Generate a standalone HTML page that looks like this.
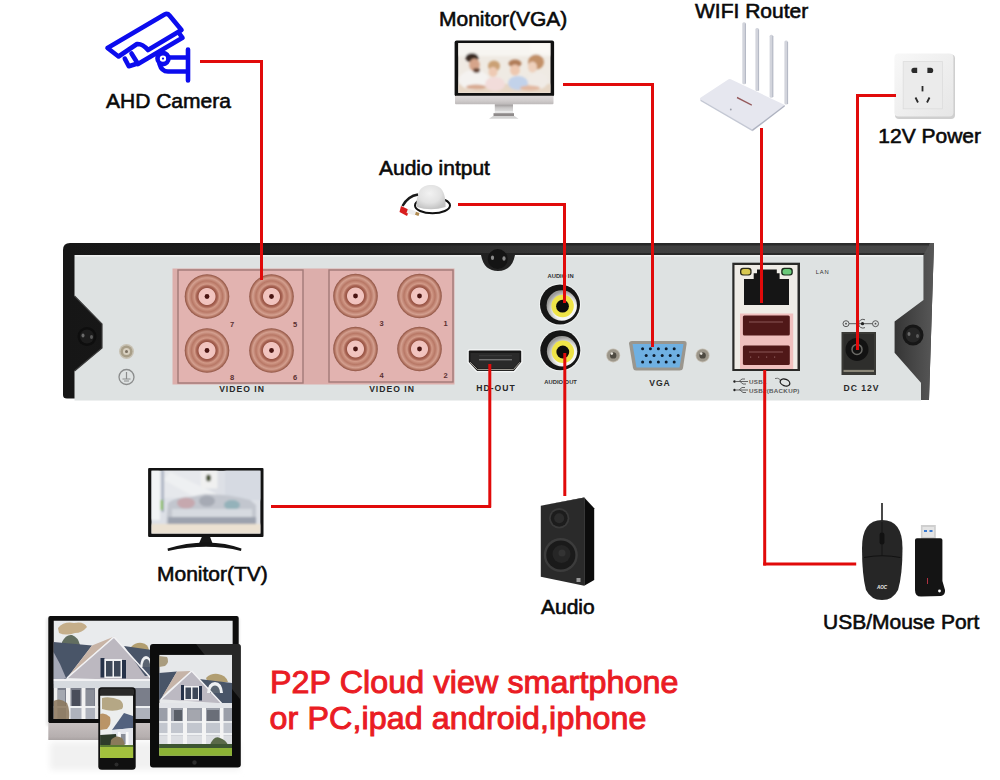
<!DOCTYPE html>
<html><head><meta charset="utf-8"><title>DVR connection diagram</title>
<style>
html,body{margin:0;padding:0;background:#fff;}
body{width:1000px;height:780px;overflow:hidden;position:relative;font-family:"Liberation Sans",sans-serif;}
svg{position:absolute;left:0;top:0;display:block;}
.lbl{font-family:"Liberation Sans",sans-serif;font-size:21px;fill:#0a0a0a;stroke:#0a0a0a;stroke-width:0.6px;}
.red{font-family:"Liberation Sans",sans-serif;font-size:32.2px;fill:#ea1c24;stroke:#ea1c24;stroke-width:1px;letter-spacing:0.12px;}
.sm{font-family:"Liberation Sans",sans-serif;font-weight:bold;}
</style></head>
<body>
<svg width="1000" height="780" viewBox="0 0 1000 780">
<defs>
  <radialGradient id="bnc" cx="50%" cy="50%" r="50%">
    <stop offset="0" stop-color="#f4c8c4"/>
    <stop offset="0.36" stop-color="#f0c2bd"/>
    <stop offset="0.40" stop-color="#9a5646"/>
    <stop offset="0.47" stop-color="#a86454"/>
    <stop offset="0.56" stop-color="#d29a88"/>
    <stop offset="0.70" stop-color="#b87866"/>
    <stop offset="0.84" stop-color="#d4a090"/>
    <stop offset="0.93" stop-color="#b27462"/>
    <stop offset="1" stop-color="#8a5040"/>
  </radialGradient>
  <linearGradient id="topbar" x1="0" y1="0" x2="1" y2="0">
    <stop offset="0" stop-color="#161616"/><stop offset="0.35" stop-color="#1c1c1c"/><stop offset="0.6" stop-color="#262626"/><stop offset="1" stop-color="#2e2e2e"/>
  </linearGradient>
  <linearGradient id="rside" x1="0" y1="0" x2="1" y2="0" gradientUnits="objectBoundingBox">
    <stop offset="0" stop-color="#353535"/>
    <stop offset="1" stop-color="#585858"/>
  </linearGradient>

  <clipPath id="clipvga"><rect x="458.2" y="43" width="92.3" height="50"/></clipPath>
  <filter id="bl1" x="-5%" y="-5%" width="110%" height="110%"><feGaussianBlur stdDeviation="1.3"/></filter>
  <filter id="bl07"><feGaussianBlur stdDeviation="0.7"/></filter>
  <linearGradient id="silv" x1="0" y1="0" x2="0" y2="1">
    <stop offset="0" stop-color="#dedada"/><stop offset="0.6" stop-color="#cfcbcb"/><stop offset="1" stop-color="#bdb9b9"/>
  </linearGradient>
  <linearGradient id="neck" x1="0" y1="0" x2="0" y2="1">
    <stop offset="0" stop-color="#9a9696"/><stop offset="0.5" stop-color="#c8c6c6"/><stop offset="1" stop-color="#dcdcdc"/>
  </linearGradient>
  <radialGradient id="dome" cx="45%" cy="35%" r="65%">
    <stop offset="0" stop-color="#f2f2f2"/><stop offset="0.6" stop-color="#e2e2e2"/><stop offset="1" stop-color="#c4c4c4"/>
  </radialGradient>

  <clipPath id="cliptv"><rect x="151.3" y="470.6" width="109.3" height="63.2"/></clipPath>
  <clipPath id="clipm"><rect x="53.5" y="620.5" width="179.3" height="98.5"/></clipPath>
  <clipPath id="clipt"><rect x="159.2" y="654.7" width="72.8" height="101.1"/></clipPath>
  <clipPath id="clipp"><rect x="100.1" y="695.4" width="33.1" height="62.7"/></clipPath>
  <linearGradient id="chin2" x1="0" y1="0" x2="0" y2="1">
    <stop offset="0" stop-color="#c6c0c0"/><stop offset="0.8" stop-color="#b6afaf"/><stop offset="1" stop-color="#a8a2a2"/>
  </linearGradient>
  <linearGradient id="refl" x1="0" y1="0" x2="0" y2="1">
    <stop offset="0" stop-color="#f6f6f6"/><stop offset="0.7" stop-color="#f2f2f2"/><stop offset="1" stop-color="#fbfbfb"/>
  </linearGradient>
  <radialGradient id="rcal" cx="60%" cy="62%" r="60%">
    <stop offset="0.6" stop-color="#f6f6f4"/><stop offset="1" stop-color="#9a9a98"/>
  </radialGradient>
  <linearGradient id="sock" x1="0" y1="0" x2="1" y2="1">
    <stop offset="0" stop-color="#f8f8f8"/><stop offset="1" stop-color="#e6e6e6"/>
  </linearGradient>
  <filter id="bl3" x="-20%" y="-50%" width="140%" height="200%"><feGaussianBlur stdDeviation="3"/></filter>
  <linearGradient id="barhl" x1="0" y1="0" x2="1" y2="0">
    <stop offset="0" stop-color="#505050" stop-opacity="0"/><stop offset="0.35" stop-color="#505050" stop-opacity="0.15"/><stop offset="0.65" stop-color="#505050" stop-opacity="0.55"/><stop offset="1" stop-color="#555555" stop-opacity="0.7"/>
  </linearGradient>
</defs>


<!-- ===== CAMERA ICON ===== -->
<g fill="none" stroke="#0c0cee" stroke-width="4.6" stroke-linecap="round" stroke-linejoin="round">
  <path d="M107.5,48 L164.5,14.5 Q167.5,13 169.5,15.5 L181.5,30 L148,50 Q142.5,43.5 137,44 L118.5,56.5 Z"/>
  <path d="M179,33 L182.5,37.8 L138,64 L131.5,53.5"/>
  <path d="M124.8,58.6 L128.8,66.2 L136,64"/>
  <circle cx="163" cy="58.6" r="5.5"/>
  <path d="M168.5,57.5 H187.5 M159.5,64 Q161.5,71.5 168,71.5 H187.5 M188,49.5 V80.5"/>
</g>


<!-- ===== MONITOR VGA ===== -->
<g id="monvga">
  <rect x="454.6" y="40.4" width="99.5" height="56" rx="2" fill="#111"/>
  <rect x="458.2" y="43" width="92.3" height="50" fill="#efeae3"/>
  <g clip-path="url(#clipvga)" filter="url(#bl1)">
    <rect x="458" y="43" width="93" height="13" fill="#f7f5f1"/>
    <rect x="530" y="43" width="20" height="10" fill="#faf8f4"/>
    <rect x="458" y="84" width="93" height="9" fill="#e6d6c4"/>
    <!-- man -->
    <ellipse cx="474" cy="80" rx="15" ry="10" fill="#f4f2f0"/>
    <ellipse cx="472" cy="57.8" rx="6.5" ry="4.6" fill="#3a2a22"/>
    <ellipse cx="474.5" cy="65" rx="5.3" ry="6.5" fill="#d6a48a"/>
    <ellipse cx="476.5" cy="70.5" rx="3.4" ry="2.4" fill="#6a4a3a"/>
    <ellipse cx="476" cy="87" rx="10" ry="2.6" fill="#d8aa92"/>
    <!-- girl -->
    <ellipse cx="494" cy="66" rx="6" ry="5.5" fill="#caa074"/>
    <ellipse cx="493" cy="72" rx="4.5" ry="5" fill="#eecab4"/>
    <ellipse cx="495" cy="84" rx="10" ry="7" fill="#f2dcda"/>
    <!-- boy -->
    <ellipse cx="515" cy="63.5" rx="6.5" ry="4" fill="#b07c58"/>
    <ellipse cx="515" cy="70" rx="5" ry="5.5" fill="#eec8b0"/>
    <ellipse cx="518" cy="83" rx="10" ry="7" fill="#c2d2ea"/>
    <!-- woman -->
    <ellipse cx="538" cy="81" rx="10" ry="8" fill="#f0ebe6"/>
    <ellipse cx="536" cy="62" rx="8" ry="7.5" fill="#c29068"/>
    <ellipse cx="532.5" cy="67" rx="4.5" ry="5.5" fill="#eed0bc"/>
    <ellipse cx="530" cy="88" rx="10" ry="2.5" fill="#e2b8a0"/>
  </g>
  <rect x="455" y="95.7" width="98.5" height="8.6" rx="1" fill="url(#silv)"/>
  <rect x="494.8" y="104.3" width="18.2" height="7" fill="url(#neck)"/>
  <rect x="494.8" y="111.3" width="18.2" height="2" fill="#e6e6e6"/>
  <rect x="493.5" y="113.2" width="20.5" height="2.9" fill="#8e8a8a"/>
  <path d="M493,116 H514.5 L518.5,118.8 H489 Z" fill="#d4d4d4"/>
</g>

<!-- ===== ROUTER ===== -->
<g id="router">
  <g fill="#d2d4dc">
    <rect x="742.3" y="22.2" width="3.6" height="62" rx="1.5"/>
    <rect x="755.4" y="28" width="3.6" height="63" rx="1.5"/>
    <rect x="769.6" y="34.7" width="3.6" height="63" rx="1.5"/>
    <rect x="784.4" y="40.6" width="3.6" height="64" rx="1.5"/>
  </g>
  <g fill="#b6bac6">
    <rect x="744.9" y="23.5" width="1.1" height="60"/>
    <rect x="758" y="29.5" width="1.1" height="61"/>
    <rect x="772.2" y="36" width="1.1" height="61"/>
    <rect x="787" y="42" width="1.1" height="62"/>
  </g>
  <path d="M700.3,99.2 Q699.5,98.4 700.8,97.6 L728.6,79.3 Q729.6,78.7 730.8,79.2 L783.8,104.6 Q784.8,105.2 784,106 L753.4,129.6 Q752.4,130.2 751.2,129.6 Z" fill="#e6e7ef"/>
  <path d="M700.3,99.2 L752.2,129.6 L752.4,131.2 L700.5,101 Z" fill="#c4c8d4"/>
  <path d="M752.2,129.6 L784.6,105 L784.8,106.6 L752.4,131.2 Z" fill="#aeb2c0"/>
  <path d="M737.2,96.8 L752,104.4 L751.6,105.8 L736.8,98.2 Z" fill="#7a2a2a" opacity="0.75"/>
  <circle cx="730.8" cy="109.5" r="0.9" fill="#9a9ea8"/>
</g>

<!-- ===== SOCKET ===== -->
<g id="socket">
  <rect x="895" y="54.5" width="60" height="64.5" rx="4" fill="#cfcfcf"/>
  <rect x="894.4" y="53.6" width="59" height="63" rx="4" fill="url(#sock)"/>
  <rect x="903.2" y="61.6" width="39.2" height="47.2" fill="#ebebeb" stroke="#dcdcdc" stroke-width="0.8"/>
  <g fill="#2a2a2a">
    <path d="M914,67.8 h3.2 v5.2 h-3.2 a2.6,2.6 0 0 1 0,-5.2 z"/>
    <path d="M927.4,67.8 h3.2 a2.6,2.6 0 0 1 0,5.2 h-3.2 z"/>
    <rect x="921.6" y="86" width="1.8" height="5.4"/>
  </g>
  <path d="M915.5,97.5 L918,102.5 M929.5,97.5 L927,102.5" stroke="#2a2a2a" stroke-width="1.8" fill="none"/>
</g>

<!-- ===== MIC ===== -->
<g id="mic">
  <ellipse cx="432.5" cy="205.5" rx="17.5" ry="7.8" fill="none" stroke="#111" stroke-width="2"/>
  <path d="M416.4,207 C416.4,191 421,185 431,185 C441,185 445.6,191 445.6,207 Q431,211.5 416.4,207 Z" fill="url(#dome)"/>
  <path d="M418,194.5 Q408,196 402.5,206" stroke="#1a1a1a" stroke-width="2.4" fill="none"/>
  <path d="M401,206 L409.5,210 L407,216 L399.5,212 Z" fill="#d81e1e"/>
  <path d="M408,208.5 L416.5,211.5 L415,215.5 L406.5,213 Z" fill="#eeeeee"/>
  <path d="M416,211.8 L419.5,213 L418.5,216 L415,214.8 Z" fill="#b08a50"/>
</g>


<!-- ===== TV ===== -->
<g id="tv">
  <rect x="148.1" y="468.1" width="115.4" height="68.8" rx="1" fill="#131313"/>
  <g clip-path="url(#cliptv)">
    <rect x="151.3" y="470.6" width="109.3" height="63.2" fill="#dde0e6"/>
    <g filter="url(#bl1)">
      <rect x="151" y="470" width="9" height="50" fill="#f2f4f6"/>
      <rect x="161.5" y="470" width="2.5" height="42" fill="#a8b0c0"/>
      <rect x="164" y="470" width="37" height="28" fill="#e6e8ec"/>
      <path d="M170,472 L230,500 L200,500 L164,480 Z" fill="#eef0f2"/>
      <rect x="201" y="470" width="16.5" height="18.5" fill="#f0f0f0"/>
      <ellipse cx="208.5" cy="478" rx="2.6" ry="3.6" fill="#50583c"/>
      <rect x="225" y="470" width="36" height="30" fill="#d6dae2"/>
      <path d="M166,526 L168,503 Q175,497 190,497 L205,494 Q230,494 250,500 L256,505 L256,526 Z" fill="#c2c6ce"/>
      <ellipse cx="186" cy="503" rx="9" ry="5.5" fill="#c6a8ae"/>
      <ellipse cx="207" cy="501" rx="8" ry="5.5" fill="#a6aab4"/>
      <ellipse cx="232" cy="505" rx="8" ry="5" fill="#94b2ba"/>
      <rect x="172" y="509" width="80" height="8" fill="#d6dae0"/>
      <rect x="168" y="517" width="88" height="7" fill="#9ca2ae"/>
      <rect x="151" y="524" width="110" height="10" fill="#ebe1d2"/>
      <rect x="160.5" y="500" width="2.5" height="10" fill="#8cc05c"/>
    </g>
  </g>
  <path d="M201.9,536.8 L210,536.8 L212.8,544 L198.8,544 Z" fill="#171717"/>
  <path d="M167.5,548.5 Q186,542.5 206,542.5 Q226,542.5 241.5,548.5 L241,551 Q224,546.8 206,546.8 Q188,546.8 168,551 Z" fill="#141414"/>
</g>

<!-- ===== SPEAKER ===== -->
<g id="speaker">
  <path d="M584.2,497.5 L594.2,508.3 L594.2,580 L584.2,585.8 Z" fill="#0c0c0c"/>
  <path d="M540.8,505.8 L584.2,497.5 L584.2,585.8 L540.8,576.7 Z" fill="#2a2a2a"/>
  <path d="M540.8,505.8 L584.2,497.5 L594.2,508.3 L584.6,498 Z" fill="#3a3a3a"/>
  <circle cx="559.2" cy="518.3" r="10.2" fill="#3a3a3a"/>
  <circle cx="559.2" cy="518.3" r="8.4" fill="#1c1c1c"/>
  <circle cx="559.2" cy="518.3" r="5" fill="#2c2c2c"/>
  <circle cx="560.8" cy="555" r="17" fill="#3c3c3c"/>
  <circle cx="560.8" cy="555" r="14.6" fill="#1a1a1a"/>
  <circle cx="561.5" cy="554" r="9" fill="#262626"/>
  <circle cx="562" cy="553" r="3.5" fill="#333"/>
  <rect x="576.5" y="578" width="4" height="4" fill="#9a9a9a"/>
</g>

<!-- ===== MOUSE + USB ===== -->
<g id="mouse">
  <path d="M882,503 L882,521" stroke="#1c1c1c" stroke-width="1.6"/>
  <path d="M882,520 Q902.5,520 902.5,548 Q902.5,575 898,590 Q893,600 882,600 Q871,600 866,590 Q862,575 862,548 Q862,520 882,520 Z" fill="#262626"/>
  <path d="M864,557.5 Q882,554 900.5,557.5" stroke="#111" stroke-width="1" fill="none"/>
  <path d="M882,522 V556" stroke="#141414" stroke-width="1"/>
  <rect x="879.6" y="532.5" width="4.8" height="12" rx="2.2" fill="#111"/>
  <text x="882" y="588.5" font-family="Liberation Sans" font-weight="bold" font-style="italic" font-size="4.6" fill="#eee" text-anchor="middle">AOC</text>
</g>
<g id="usb">
  <rect x="920.9" y="525" width="14.9" height="14" fill="#cfcfcf"/>
  <rect x="922.5" y="527" width="11.6" height="10" fill="#e4e4e4"/>
  <rect x="924" y="530" width="3" height="2" fill="#3a7ad0"/><rect x="929.5" y="530" width="3" height="2" fill="#3a7ad0"/>
  <path d="M915,540 Q915,538.3 917,538.3 L940.5,538.3 Q942.4,538.3 942.4,540 L942.4,581 L945,590 Q945.5,595 941,596 L921,596.6 Q915,596.6 915,590 Z" fill="#141414"/>
  <rect x="927" y="578" width="1" height="6" fill="#b03040"/>
  <circle cx="939.5" cy="591" r="1.4" fill="#fff"/>
</g>

<!-- ===== DEVICES ===== -->
<g id="devices">
  <rect x="50" y="742" width="190" height="28" fill="#f1f1f1" filter="url(#bl3)"/>
  <!-- monitor -->
  <rect x="46" y="618" width="194" height="108" rx="2" fill="#d8d8d8" opacity="0.5" filter="url(#bl1)"/>
  <rect x="48.3" y="616.1" width="190.4" height="107.2" rx="2" fill="#0e0e0e"/>
  <rect x="48.3" y="723" width="102" height="17" fill="url(#chin2)"/>
  <g clip-path="url(#clipm)">
    <rect x="53.5" y="620.5" width="179.3" height="98.5" fill="#e9ebed"/>
    <g filter="url(#bl07)">
      <path d="M58,628 Q64,621 74,623 Q84,621 87,627 Q82,633 75,633 Q66,636 59,633 Z" fill="#b89a68" opacity="0.75"/>
      <path d="M62,642 Q66,634 72,635 Q78,637 80,645 L62,645 Z" fill="#4a5848" opacity="0.85"/>
      <path d="M131,647 Q136,642 142,643 Q148,644 149,650 L133,651 Z" fill="#a8905a" opacity="0.85"/>
      <path d="M53.5,642 L92,645.5 L67,678 L53.5,684 Z" fill="#4a5468"/>
      <path d="M53.5,652 L60,664 L66,678 L53.5,684 Z" fill="#a4a8b6"/>
      <path d="M114,636.5 L67,678 L153,681 Z" fill="#bcb8c0"/>
      <path d="M92,645.5 L113,637 L78,668 L68,677 Z" fill="#c8b4a6"/>
      <path d="M124,646 L152,650 L152,676 L145,676 Z" fill="#4a5468"/>
      <path d="M140,667 Q141,656 146,656 Q151,656 152,667 Z" fill="#eef0f2"/>
      <path d="M142.5,667 Q143,659 146.5,659 Q150,659 150,667 Z" fill="#5a6470"/>
      <path d="M114,637 L67,678 M114,637 L153,680.5" stroke="#f2f2f4" stroke-width="1.6" fill="none"/>
      <rect x="100.5" y="658" width="4" height="19.5" fill="#26304a"/>
      <rect x="104.5" y="659" width="17.5" height="19" fill="#f0f0f2"/>
      <rect x="106" y="661" width="6.5" height="15.5" fill="#3c4658"/>
      <rect x="114" y="661" width="6.5" height="15.5" fill="#3c4658"/>
      <rect x="122" y="660" width="4" height="18.5" fill="#26304a"/>
      <rect x="53.5" y="679" width="180" height="9" fill="#d6dadf"/>
      <rect x="53.5" y="679" width="180" height="2" fill="#f2f2f4"/>
      <rect x="53.5" y="688" width="180" height="31" fill="#7a7e8a"/>
      <rect x="58" y="690" width="7" height="16" fill="#a4a8b0"/>
      <rect x="72" y="690" width="8" height="16" fill="#4a4e5a"/>
      <rect x="86" y="690" width="8" height="16" fill="#8a8e98"/>
      <rect x="53.5" y="706" width="180" height="2" fill="#eef0f2"/>
      <rect x="53.5" y="708" width="180" height="11" fill="#aeb2bc"/>
      <rect x="54" y="688" width="3.5" height="31" fill="#eeeeee"/>
      <rect x="66" y="688" width="4.5" height="31" fill="#f2f2f2"/>
      <rect x="81.5" y="688" width="4" height="31" fill="#f2f2f2"/>
      <rect x="95" y="688" width="3.5" height="31" fill="#e8e8e8"/>
      <path d="M53.5,701 Q60,697 67,703 Q70,710 69,719 L53.5,719 Z" fill="#8a7458" opacity="0.85"/>
    </g>
  </g>
  <!-- tablet -->
  <rect x="150" y="644" width="90.8" height="123.5" rx="3" fill="#0c0c0c"/>
  <path d="M196,644 L237.8,644 Q240.8,644 240.8,647 L240.8,700 Z" fill="#3a3a3a" opacity="0.6"/>
  <g clip-path="url(#clipt)">
    <rect x="159.2" y="654.7" width="72.8" height="101.1" fill="#e6e8ea"/>
    <g filter="url(#bl07)">
      <path d="M159,656 L167,657 Q170,662 165,666 L159,667 Z" fill="#9a8a64" opacity="0.8"/>
      <path d="M206,678 Q211,673 218,674 Q226,675 228,682 L208,683 Z" fill="#a8925e" opacity="0.85"/>
      <path d="M159,673 L177,671.5 L161,699 L159,700 Z" fill="#4a5468"/>
      <path d="M191.7,670.8 L160.8,699.2 L221.7,703.3 Z" fill="#bcb9c2"/>
      <path d="M177,671.5 L191,671 L168,691 L162,697 Z" fill="#c6b4a8"/>
      <path d="M199,679 L232,683 L232,705 L221.7,703.3 Z" fill="#4a5468"/>
      <path d="M207,693 Q208,682 215,682 Q222,682 223,693 Z" fill="#eef0f2"/>
      <path d="M210,693 Q210.5,685.5 215,685.5 Q219.5,685.5 220,693 Z" fill="#5c6672"/>
      <path d="M191.7,671 L160.8,699.5 M191.7,671 L221.7,703.5" stroke="#f2f2f4" stroke-width="1.4" fill="none"/>
      <rect x="181" y="685" width="3" height="15" fill="#26304a"/>
      <rect x="184" y="686" width="15" height="14.5" fill="#f0f0f2"/>
      <rect x="185.5" y="687.5" width="5.5" height="11.5" fill="#3c4658"/>
      <rect x="192.5" y="687.5" width="5.5" height="11.5" fill="#3c4658"/>
      <rect x="199" y="686" width="3" height="14.5" fill="#26304a"/>
      <rect x="159" y="703" width="73" height="5" fill="#e2e4e8"/>
      <rect x="159" y="708" width="73" height="37" fill="#9a9ea8"/>
      <rect x="174" y="710" width="8" height="12" fill="#5a5e68"/>
      <rect x="188" y="710" width="12" height="12" fill="#a4a6ae"/>
      <rect x="207" y="710" width="12" height="12" fill="#6a6e78"/>
      <rect x="159" y="721" width="73" height="2" fill="#e8eaec"/>
      <rect x="159" y="723" width="73" height="10" fill="#c2c6ce"/>
      <rect x="159" y="733" width="73" height="2.5" fill="#eef0f2"/>
      <rect x="159" y="735.5" width="73" height="9" fill="#dcdee2"/>
      <rect x="167.5" y="708" width="3.5" height="37" fill="#f4f4f4"/>
      <rect x="183" y="708" width="4" height="37" fill="#f4f4f4"/>
      <rect x="202" y="708" width="4" height="37" fill="#f4f4f4"/>
      <rect x="220" y="708" width="3.5" height="37" fill="#f4f4f4"/>
      <path d="M210,745 Q214,735 220,738 Q226,740 228,745 Z" fill="#5a6a4a"/>
      <rect x="159" y="744" width="73" height="4" fill="#3e5432"/>
      <rect x="159" y="748" width="73" height="8" fill="#8cb236"/>
    </g>
  </g>
  <circle cx="194.5" cy="762.5" r="2.2" fill="#2c2c2c"/>
  <!-- phone -->
  <rect x="98.3" y="687.2" width="37.4" height="82.5" rx="3.5" fill="#101010"/>
  <rect x="100" y="688.5" width="34" height="7" rx="2" fill="#2a2a2a"/>
  <g clip-path="url(#clipp)">
    <rect x="100.1" y="695.4" width="33.1" height="63" fill="#eceeee"/>
    <g filter="url(#bl07)">
      <path d="M102,698 Q110,696 120,700 Q125,704 122,709 Q114,712 106,710 L102,709 Z" fill="#a8966a" opacity="0.8"/>
      <path d="M100,714 Q105,712 110,717 Q112,724 107,729 L100,730 Z" fill="#b08450" opacity="0.85"/>
      <path d="M124,713 L112,730 L133,728 L133,716 Z" fill="#52627e"/>
      <path d="M112,730 L133,728 L133,748 L112,748 Z" fill="#e4e6ec"/>
      <rect x="118" y="732" width="2.5" height="14" fill="#fafafa"/>
      <rect x="126" y="732" width="2.5" height="14" fill="#fafafa"/>
      <rect x="121" y="734" width="4.5" height="10" fill="#8a8e98"/>
      <path d="M100,735 L116,734 L118,746 L100,746 Z" fill="#2e3a2c"/>
      <path d="M111,740 Q116,734 122,738 Q126,744 124,748 L110,748 Z" fill="#8a7a5a"/>
      <rect x="100" y="746" width="34" height="13" fill="#a2c03c"/>
      <rect x="100" y="745" width="34" height="2" fill="#5a7a30"/>
    </g>
  </g>
  <circle cx="116.5" cy="764.5" r="2" fill="#2c2c2c"/>
</g>

<circle cx="163" cy="58.6" r="1.1" fill="#0c0cee"/>
<!-- ===== DVR PANEL ===== -->
<g id="panel">
  <path d="M63,250 Q63,243 70,243 L934,243 L929,399 L67,398.5 Q63,398.5 63,395 Z" fill="url(#topbar)"/>
  <path d="M923.5,255 L930,243 L934,243 L929,400 L921,400 L921,382.7 L894.6,352.7 L894.6,321.5 L923.5,300 Z" fill="url(#rside)"/>
  <path d="M74.5,255 L481,255 C483,266 489,271 498,271 C507,271 513,266 515,255 L923.5,255 L923.5,300 L894.6,321.5 L894.6,352.7 L921,382.7 L921,400.5 L74.5,400.5 L74.5,371 L102,348 L102,324 L74.5,296 Z" fill="#dee2e2"/>
  <rect x="70" y="245.5" width="858" height="7.5" fill="url(#barhl)"/>
  <rect x="75" y="255" width="406" height="1.6" fill="#eef0f0"/><rect x="515" y="255" width="408" height="1.6" fill="#eef0f0"/>
  <!-- screws -->
  <circle cx="87" cy="336.5" r="9.5" fill="#0e0e0e"/><circle cx="87" cy="336.5" r="7" fill="#1c1c1c"/>
  <ellipse cx="83" cy="335.5" rx="1.5" ry="2" fill="#6a6a6a"/><ellipse cx="91.5" cy="337" rx="1.5" ry="2" fill="#5a5a5a"/>
  <circle cx="913" cy="335" r="10.5" fill="#161616"/><circle cx="913" cy="335" r="7.5" fill="#262626"/>
  <ellipse cx="909" cy="334" rx="1.5" ry="2" fill="#6a6a6a"/><ellipse cx="917.5" cy="336" rx="1.5" ry="2" fill="#5a5a5a"/>
  <path d="M74.5,296 L102,324 L102,348 L74.5,371" stroke="#3a3a3a" stroke-width="1.2" fill="none"/>
  <circle cx="497.7" cy="259" r="10" fill="#141414"/><ellipse cx="492.5" cy="257.8" rx="1.6" ry="2.2" fill="#8a8a8a"/><ellipse cx="504" cy="258.5" rx="1.6" ry="2.2" fill="#8a8a8a"/>
  <!-- ground -->
  <circle cx="126.5" cy="351.5" r="7.5" fill="#c8c2b4"/><circle cx="126.5" cy="351.5" r="6" fill="#a89e88"/><circle cx="126.5" cy="351.5" r="3.5" fill="#d8d0c0"/><circle cx="126.5" cy="351.5" r="1.5" fill="#7a7060"/>
  <circle cx="126.5" cy="377" r="7.5" fill="none" stroke="#8a8c8c" stroke-width="1.3"/>
  <path d="M126.5,372 V379 M122.5,379 H130.5 M124,381 H129" stroke="#8a8c8c" stroke-width="1.2" fill="none"/>

  <!-- pink BNC area -->
  <rect x="172.5" y="268.5" width="282" height="116" fill="#dcaeab"/>
  <rect x="178" y="270" width="125" height="113" fill="#e2b3b0" stroke="#a27a78" stroke-width="1.4"/>
  <rect x="329" y="270" width="124" height="112" fill="#e2b3b0" stroke="#a27a78" stroke-width="1.4"/>
  <g id="bncs">
    <circle cx="207" cy="296.5" r="22.3" fill="url(#bnc)"/>
    <circle cx="271.5" cy="296.5" r="22.3" fill="url(#bnc)"/>
    <circle cx="207" cy="350.5" r="22.3" fill="url(#bnc)"/>
    <circle cx="271.5" cy="350.5" r="22.3" fill="url(#bnc)"/>
    <circle cx="355.5" cy="296" r="22.3" fill="url(#bnc)"/>
    <circle cx="419.5" cy="296" r="22.3" fill="url(#bnc)"/>
    <circle cx="355.5" cy="349" r="22.3" fill="url(#bnc)"/>
    <circle cx="419.5" cy="349" r="22.3" fill="url(#bnc)"/>
    <g fill="#4a1512">
      <circle cx="207" cy="296.5" r="2.4"/><circle cx="271.5" cy="296.5" r="2.4"/>
      <circle cx="207" cy="350.5" r="2.4"/><circle cx="271.5" cy="350.5" r="2.4"/>
      <circle cx="355.5" cy="296" r="2.4"/><circle cx="419.5" cy="296" r="2.4"/>
      <circle cx="355.5" cy="349" r="2.4"/><circle cx="419.5" cy="349" r="2.4"/>
    </g>
  </g>
  <g class="sm" font-size="7.5" fill="#5a3030" text-anchor="middle">
    <text x="232" y="326.5">7</text><text x="295" y="326.5">5</text>
    <text x="232" y="379.5">8</text><text x="295" y="379.5">6</text>
    <text x="381.5" y="326">3</text><text x="445.5" y="326">1</text>
    <text x="381.5" y="378">4</text><text x="445.5" y="378">2</text>
  </g>
  <g class="sm" font-size="8.6" text-anchor="middle" letter-spacing="1" fill="#282828" style="fill:#282828">
    <text x="242" y="392">VIDEO IN</text>
    <text x="392" y="391.5">VIDEO IN</text>
    <text x="496" y="391">HD-OUT</text>
    <text x="660" y="385.5">VGA</text>
    <text x="861.5" y="391">DC 12V</text>
  </g>
  <g class="sm" font-size="5.8" text-anchor="middle" fill="#303030">
    <text x="560.6" y="278">AUDIO IN</text>
    <text x="560.6" y="383.5">AUDIO OUT</text>
    <text x="822.6" y="273.5" font-weight="normal" letter-spacing="0.8">LAN</text>
  </g>

  <!-- RCA jacks -->
  <g>
    <circle cx="560" cy="304.5" r="21" fill="#f2f4f4"/>
    <circle cx="560" cy="304.5" r="20" fill="#161616"/>
    <circle cx="561.8" cy="305.5" r="15.2" fill="url(#rcal)"/>
    <circle cx="562.6" cy="306" r="11.2" fill="#efe448"/>
    <circle cx="562.5" cy="306.2" r="6.4" fill="#0c0c0c"/>
    <circle cx="560.3" cy="350.3" r="21" fill="#f2f4f4"/>
    <circle cx="560.3" cy="350.3" r="20" fill="#161616"/>
    <circle cx="562.1" cy="351.3" r="15.2" fill="url(#rcal)"/>
    <circle cx="562.9" cy="351.8" r="11.2" fill="#efe448"/>
    <circle cx="562.8" cy="352" r="6.4" fill="#0c0c0c"/>
  </g>
  <!-- HDMI -->
  <path d="M467.5,351 Q467.5,349.3 469.5,349.3 L520.5,349.3 Q522.5,349.3 522.5,351 L522.5,362.5 L514.5,372.2 L476.5,372.2 L467.5,362.5 Z" fill="#f4f6f6"/>
  <path d="M468.8,351.5 Q468.8,350.5 470,350.5 L520,350.5 Q521.2,350.5 521.2,351.5 L521.2,362 L513.8,371 L477.2,371 L468.8,362 Z" fill="#181818"/>
  <path d="M470.5,353 L519.5,353 L519.5,361.5 L513,368.5 L478,368.5 L470.5,361.5 Z" fill="#2a2a2a"/>
  <path d="M470,362.2 L477.6,369.6 L513.4,369.6 L520,362.2" stroke="#a8a49c" stroke-width="1" fill="none"/>
  <rect x="479" y="359" width="33" height="1.4" fill="#707070"/>
  <rect x="479" y="355.2" width="33" height="1" fill="#3c3c3c"/>
  <!-- VGA -->
  <circle cx="613.2" cy="355.4" r="7" fill="#c4beb2"/><circle cx="613.2" cy="355.4" r="6.2" fill="#9c968a"/><circle cx="613.2" cy="355.4" r="3.2" fill="#4e4a42"/><circle cx="611.8" cy="353.6" r="1.3" fill="#e8e4dc"/>
  <circle cx="702.6" cy="355.4" r="7" fill="#c4beb2"/><circle cx="702.6" cy="355.4" r="6.2" fill="#9c968a"/><circle cx="702.6" cy="355.4" r="3.2" fill="#4e4a42"/><circle cx="701.2" cy="353.6" r="1.3" fill="#e8e4dc"/>
  <path d="M629,343.5 Q629,341 632,341 L684,341 Q687,341 686.6,344 L683,368 Q682.5,370.5 679.5,370.5 L636,370.5 Q633.5,370.5 633,368 Z" fill="#9a968e"/>
  <path d="M632.5,344 L683.5,344 L679.5,367.5 L636.5,367.5 Z" fill="#6fb0e2"/>
  <g fill="#0c1a2a">
    <circle cx="642.6" cy="348.8" r="1.5"/><circle cx="650.4" cy="348.8" r="1.5"/><circle cx="658.4" cy="348.8" r="1.5"/><circle cx="666.2" cy="348.8" r="1.5"/><circle cx="674.2" cy="348.8" r="1.5"/>
    <circle cx="646.2" cy="355.4" r="1.5"/><circle cx="654" cy="355.4" r="1.5"/><circle cx="662.2" cy="355.4" r="1.5"/><circle cx="670.2" cy="355.4" r="1.5"/><circle cx="678.2" cy="355.4" r="1.5"/>
    <circle cx="642.6" cy="362" r="1.5"/><circle cx="650.4" cy="362" r="1.5"/><circle cx="658.4" cy="362" r="1.5"/><circle cx="666.2" cy="362" r="1.5"/><circle cx="674.2" cy="362" r="1.5"/>
  </g>
  <!-- LAN / USB -->
  <rect x="732.3" y="262.7" width="67.7" height="108.3" fill="#2a2a28"/>
  <rect x="734.5" y="265" width="63" height="104" fill="#efece6"/>
  <path d="M757,269.5 L776.8,269.5 L776.8,273.3 L779.6,273.3 L779.6,279 L789,279 L789,305 L744,305 L744,279 L753.7,279 L753.7,273.3 L757,273.3 Z" fill="#151515"/>
  <rect x="740" y="267.8" width="11.6" height="7.8" rx="3" fill="#2a2a1a"/>
  <rect x="741.3" y="269" width="9" height="5.4" rx="2.5" fill="#d8c850"/>
  <rect x="781.2" y="267.8" width="11.6" height="7.8" rx="3" fill="#1a2a1a"/>
  <rect x="782.5" y="269" width="9" height="5.4" rx="2.5" fill="#6ac878"/>
  <rect x="740" y="313.5" width="53.2" height="55.5" fill="#f0c0be"/>
  <rect x="742.9" y="315.6" width="46.9" height="19.9" rx="1.5" fill="#501818"/>
  <rect x="742.9" y="345.6" width="46.9" height="19.5" rx="1.5" fill="#501818"/>
  <rect x="749" y="321.5" width="34" height="1" fill="#8a5656"/>
  <rect x="749" y="351.5" width="34" height="1" fill="#8a5656"/>
  <g fill="#8a5a5a"><rect x="750" y="356.5" width="1.2" height="1.2"/><rect x="758" y="356.5" width="1.2" height="1.2"/><rect x="766" y="356.5" width="1.2" height="1.2"/><rect x="774" y="356.5" width="1.2" height="1.2"/></g>
  <g fill="#222"><circle cx="734.5" cy="381.5" r="1.2"/><circle cx="734.5" cy="390" r="1.2"/></g>
  <path d="M735.5,381.5 H748 M739,381.5 L742,379 H745 M740,381.5 L743,384 H746 M735.5,390 H748 M739,390 L742,387.5 H745 M740,390 L743,392.5 H746" stroke="#555" stroke-width="0.9" fill="none"/>
  <g font-size="6.2" fill="#5a5a5a" font-family="Liberation Sans" font-weight="bold" letter-spacing="0.3">
    <text x="749" y="384">USB1</text>
    <text x="749" y="392.5">USB2(BACKUP)</text>
  </g>
  <ellipse cx="785" cy="382.5" rx="5" ry="3.3" transform="rotate(20 785 382.5)" fill="none" stroke="#1a1a1a" stroke-width="1.3"/>
  <path d="M775,378.5 Q778,377.5 780,379.5" stroke="#555" stroke-width="0.8" fill="none"/>
  <!-- DC -->
  <g stroke="#4a4a4a" stroke-width="0.9" fill="none">
    <circle cx="846" cy="323.7" r="3"/><circle cx="875.5" cy="323.7" r="3"/>
    <path d="M849,323.7 H872.5 M865,319.8 A4.4,4.4 0 1 0 865,327.6"/>
  </g>
  <circle cx="862.5" cy="323.7" r="1.6" fill="#222"/>
  <circle cx="846" cy="323.7" r="0.9" fill="#4a4a4a"/><circle cx="875.5" cy="323.7" r="0.9" fill="#4a4a4a"/>
  <rect x="841.5" y="332" width="34.5" height="43" fill="#3a3a36"/>
  <rect x="843.5" y="334" width="30.5" height="35" fill="#2e2e2c"/>
  <rect x="843.5" y="370" width="30.5" height="2" fill="#8a8678"/>
  <circle cx="857" cy="349.4" r="11.5" fill="#121212"/>
  <circle cx="857" cy="349.4" r="5" fill="none" stroke="#6a6a66" stroke-width="1.5"/>
</g>

<!-- ===== RED LINES ===== -->
<g fill="#e10a0a">
  <rect x="200" y="60" width="63" height="3"/>
  <rect x="260" y="60" width="3" height="220"/>
  <rect x="458" y="203" width="108" height="3"/>
  <rect x="563" y="203" width="3" height="100"/>
  <rect x="563" y="83" width="91" height="3"/>
  <rect x="651" y="83" width="3" height="264"/>
  <rect x="760" y="128" width="3" height="175"/>
  <rect x="856" y="94" width="40" height="3"/>
  <rect x="856" y="94" width="3" height="256"/>
  <rect x="488.3" y="364" width="3" height="143.5"/>
  <rect x="271" y="505" width="220" height="3"/>
  <rect x="563.3" y="353" width="3" height="143"/>
  <rect x="763.2" y="370" width="3" height="195.5"/>
  <rect x="763.2" y="562.5" width="93" height="3"/>
</g>

<!-- ===== LABELS ===== -->
<g class="lbl">
  <text x="106" y="107.7">AHD Camera</text>
  <text x="439" y="25.8">Monitor(VGA)</text>
  <text x="695" y="17.9">WIFI Router</text>
  <text x="379" y="175">Audio intput</text>
  <text x="878.3" y="142.9">12V Power</text>
  <text x="157" y="580.7">Monitor(TV)</text>
  <text x="541" y="613.8">Audio</text>
  <text x="823" y="629">USB/Mouse Port</text>
</g>
<g class="red">
  <text x="270" y="693">P2P Cloud view smartphone</text>
  <text x="269.5" y="729">or PC,ipad android,iphone</text>
</g>
</svg>
</body></html>
